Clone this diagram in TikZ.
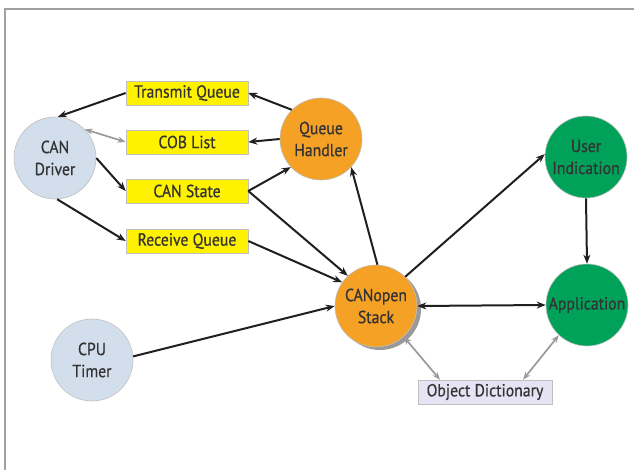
\documentclass[tikz,border=0pt]{standalone}
\usepackage{fontspec}
\setmainfont{PT Sans}[FakeStretch=0.9,FakeBold=0.6]
\usetikzlibrary{arrows.meta,shadows}
\definecolor{txt}{HTML}{333333}
\definecolor{lblue}{HTML}{D2DEEC}
\definecolor{orng}{HTML}{F4A126}
\definecolor{grn}{HTML}{00A25A}
\definecolor{ylw}{HTML}{FFF200}
\definecolor{lav}{HTML}{E6E4F4}
\definecolor{frame}{HTML}{A0A0A0}
\definecolor{garrow}{HTML}{9A9A9A}
\begin{document}
\begin{tikzpicture}[x=1pt,y=-1pt,
  font=\fontsize{17.5}{22}\selectfont, text=txt,
  circ/.style={circle, minimum size=82pt, inner sep=0pt, draw=black!25, line width=0.6pt, align=center},
  box/.style={rectangle, minimum width=122pt, minimum height=24pt, inner sep=0pt, draw=black!25, line width=0.6pt},
  arr/.style={-{Stealth[length=9pt,width=7pt]}, line width=2pt, draw=black!88},
  darr/.style={{Stealth[length=9pt,width=7pt]}-{Stealth[length=9pt,width=7pt]}, line width=2pt, draw=black!88},
  garr/.style={{Stealth[length=8pt,width=6pt]}-{Stealth[length=8pt,width=6pt]}, line width=1.7pt, draw=garrow}]
\useasboundingbox (0,0) rectangle (634,470);
\draw[frame, line width=2.2pt] (5,470) -- (5,9) -- (634,9);

\node[circ, fill=lblue] (drv) at (55,158) {CAN\\Driver};
\node[circ, fill=lblue] (cpu) at (92,360) {CPU\\Timer};
\node[circ, fill=orng] (qh) at (321,139) {Queue\\Handler};
\node[circ, fill=orng, drop shadow={shadow xshift=4pt, shadow yshift=-3pt, fill=black!40, opacity=1}] (cs) at (376,306) {CANopen\\Stack};
\node[circ, fill=grn] (ui) at (586,157) {User\\Indication};
\node[circ, fill=grn] (app) at (587,305) {Application};

\node[box, fill=ylw] (tq) at (187,93) {Transmit Queue};
\node[box, fill=ylw] (cob) at (187,142) {COB List};
\node[box, fill=ylw] (cst) at (187,191) {CAN State};
\node[box, fill=ylw] (rq) at (187,241) {Receive Queue};
\node[box, fill=lav, minimum width=134pt] (od) at (485,392) {Object Dictionary};

\draw[arr] (tq.west) -- (drv.86);
\draw[garr] (drv.44) -- (cob.west);
\draw[arr] (drv.0) -- (cst.west);
\draw[arr] (drv.-87) -- (rq.west);
\draw[arr] (qh.135) -- (tq.east);
\draw[arr] (qh.180) -- (cob.east);
\draw[arr] (cst.east) -- (qh.-137);
\draw[arr] (cst.east) -- (cs.133);
\draw[arr] (rq.east) -- (cs.145);
\draw[arr] (cpu.5) -- (cs.180);
\draw[arr] (cs.88) -- (qh.-43);
\draw[arr] (cs.45) -- (ui.176);
\draw[arr] (ui.-90) -- (app.90);
\draw[darr] (cs.0) -- (app.180);
\draw[garr] (cs.-48) -- ([xshift=-45pt]od.north);
\draw[garr] (app.-133) -- ([xshift=38pt]od.north);
\end{tikzpicture}
\end{document}
